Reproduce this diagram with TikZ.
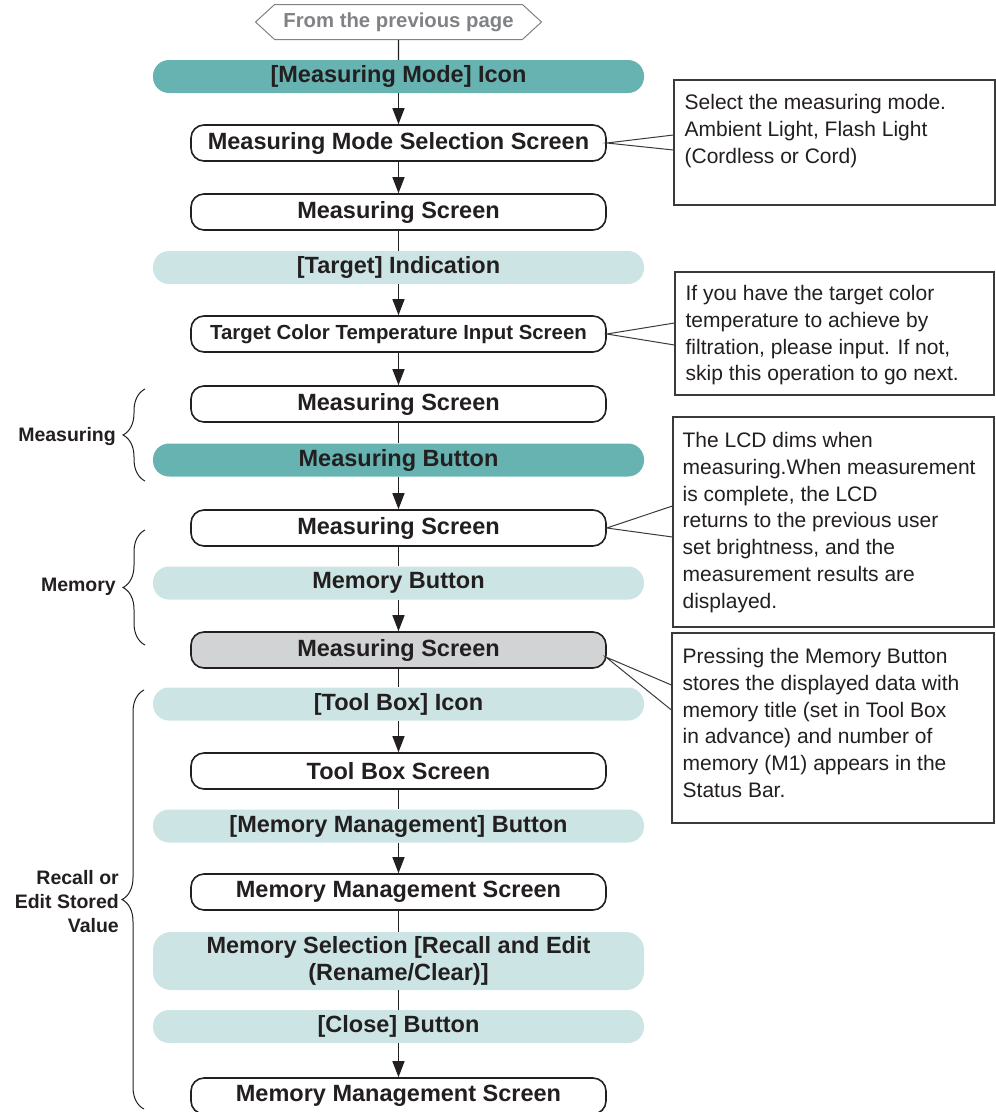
\documentclass[tikz,border=0pt]{standalone}
\usepackage{fontspec}
\setmainfont{Liberation Sans}
\usetikzlibrary{
  arrows.meta,
  shapes.symbols,
  positioning,
  calc,
  decorations.pathreplacing
}
\definecolor{mdInk}{HTML}{231F20}
\definecolor{mdTeal}{HTML}{66B3B2}
\definecolor{mdPale}{HTML}{CCE5E4}
\definecolor{mdGrey}{HTML}{D1D3D4}
\definecolor{mdMute}{HTML}{808285}
\definecolor{mdLine}{HTML}{3A3A3A}
\tikzset{
  flownode/.style={
    rounded corners=13pt, minimum height=36pt, inner sep=0pt, text=mdInk,
    font=\fontsize{23.5}{27}\selectfont\bfseries, align=center
  },
  screen/.style={flownode, draw=mdInk, line width=1.6pt, fill=white, minimum width=415pt},
  greyscreen/.style={screen, fill=mdGrey},
  icon/.style={flownode, fill=mdTeal, minimum width=491pt, minimum height=33pt, rounded corners=16pt},
  action/.style={icon, fill=mdPale},
  prevpage/.style={
    signal, signal to=west and east, signal pointer angle=85,
    draw=mdMute, line width=1pt, fill=white, minimum width=286pt, minimum height=35pt,
    inner sep=0pt, text=mdMute, font=\fontsize{20.3}{24}\selectfont\bfseries
  },
  notebox/.style={draw=mdLine, line width=1.1pt, fill=white, inner sep=0pt},
  notetext/.style={font=\fontsize{21}{26.7}\selectfont, text=mdInk, align=left, inner sep=0pt, anchor=north west},
  sidelabel/.style={font=\fontsize{19.5}{24}\selectfont\bfseries, text=mdInk, align=right, inner sep=0pt, anchor=east},
  flow/.style={-{Triangle[length=16pt, width=12pt]}, line width=1.2pt, draw=mdInk},
  link/.style={line width=1.2pt, draw=mdInk},
  pointer/.style={draw=mdLine, line width=1pt},
  brace/.style={decorate, decoration={brace, amplitude=22pt}, line width=1pt, draw=mdInk}
}

\begin{document}
\begin{tikzpicture}[x=1pt, y=-1pt]
  \useasboundingbox (0,0) rectangle (996,1112);

  % main column
  \node[prevpage] (prev) at (398.5,22) {From the previous page};
  \node[icon] (mmicon) at (398.5,76.5) {[Measuring Mode] Icon};
  \node[screen] (mmsel) at (398.5,143) {Measuring Mode Selection Screen};
  \node[screen] (ms1) at (398.5,212) {Measuring Screen};
  \node[action] (target) at (398.5,267.5) {[Target] Indication};
  \node[screen, font=\fontsize{20.4}{24}\selectfont\bfseries] (tcsel) at (398.5,334) {Target Color Temperature Input Screen};
  \node[screen] (ms2) at (398.5,404) {Measuring Screen};
  \node[icon] (mbtn) at (398.5,460) {Measuring Button};
  \node[screen] (ms3) at (398.5,528) {Measuring Screen};
  \node[action] (memb) at (398.5,583) {Memory Button};
  \node[greyscreen] (ms4) at (398.5,650) {Measuring Screen};
  \node[action] (tbicon) at (398.5,704) {[Tool Box] Icon};
  \node[screen] (tbscr) at (398.5,771) {Tool Box Screen};
  \node[action] (mmbtn) at (398.5,826) {[Memory Management] Button};
  \node[screen] (mmscr) at (398.5,892) {Memory Management Screen};
  \node[action, minimum height=58pt, rounded corners=18pt] (memsel) at (398.5,961) {Memory Selection [Recall and Edit\\(Rename/Clear)]};
  \node[action] (close) at (398.5,1026.5) {[Close] Button};
  \node[screen] (mmscr2) at (398.5,1096) {Memory Management Screen};

  % connectors
  \draw[link] (prev) -- (mmicon);
  \draw[flow] (mmicon) -- (mmsel);
  \draw[flow] (mmsel) -- (ms1);
  \draw[link] (ms1) -- (target);
  \draw[flow] (target) -- (tcsel);
  \draw[flow] (tcsel) -- (ms2);
  \draw[link] (ms2) -- (mbtn);
  \draw[flow] (mbtn) -- (ms3);
  \draw[link] (ms3) -- (memb);
  \draw[flow] (memb) -- (ms4);
  \draw[link] (ms4) -- (tbicon);
  \draw[flow] (tbicon) -- (tbscr);
  \draw[link] (tbscr) -- (mmbtn);
  \draw[flow] (mmbtn) -- (mmscr);
  \draw[link] (mmscr) -- (memsel);
  \draw[link] (memsel) -- (close);
  \draw[flow] (close) -- (mmscr2);

  % notes
  \node[notebox, minimum width=321pt, minimum height=125pt] (note1) at (834.5,142.5) {};
  \node[notetext] (note1txt) at ($(note1.north west)+(11,15)$) {Select the measuring mode.\\Ambient Light, Flash Light\\(Cordless or Cord)};
  \draw[pointer] ($(note1.west)+(0,-7.5)$) -- (mmsel.east) -- ($(note1.west)+(0,7.5)$);

  \node[notebox, minimum width=319pt, minimum height=123pt] (note2) at (834.5,333.5) {};
  \node[notetext] (note2txt) at ($(note2.north west)+(11,14)$) {If you have the target color\\temperature to achieve by\\filtration, please input. If not,\\skip this operation to go next.};
  \draw[pointer] ($(note2.west)+(0,-10.5)$) -- (tcsel.east) -- ($(note2.west)+(0,11.5)$);

  \node[notebox, minimum width=321pt, minimum height=210pt] (note3) at (833.5,522) {};
  \node[notetext] (note3txt) at ($(note3.north west)+(10,16)$) {The LCD dims when\\measuring.When measurement\\is complete, the LCD\\returns to the previous user\\set brightness, and the\\measurement results are\\displayed.};
  \draw[pointer] ($(note3.west)+(0,-16)$) -- (ms3.east) -- ($(note3.west)+(0,15)$);

  \node[notebox, minimum width=322pt, minimum height=190pt] (note4) at (833,728) {};
  \node[notetext] (note4txt) at ($(note4.north west)+(11,16)$) {Pressing the Memory Button\\stores the displayed data with\\memory title (set in Tool Box\\in advance) and number of\\memory (M1) appears in the\\Status Bar.};
  \draw[pointer] ($(note4.west)+(0,-43)$) -- ($(ms4.east)+(-1,7)$) -- ($(note4.west)+(0,-18)$);

  % side braces
  \draw[brace] (145,481) -- (145,389);
  \node[sidelabel] (lblmeas) at (116,436) {Measuring};
  \draw[brace] (145,645) -- (145,530);
  \node[sidelabel] (lblmem) at (116,587) {Memory};
  \draw[brace] (144,1109) -- (144,690);
  \node[sidelabel] (lblrecall) at (119,902) {Recall or\\Edit Stored\\Value};
\end{tikzpicture}
\end{document}
